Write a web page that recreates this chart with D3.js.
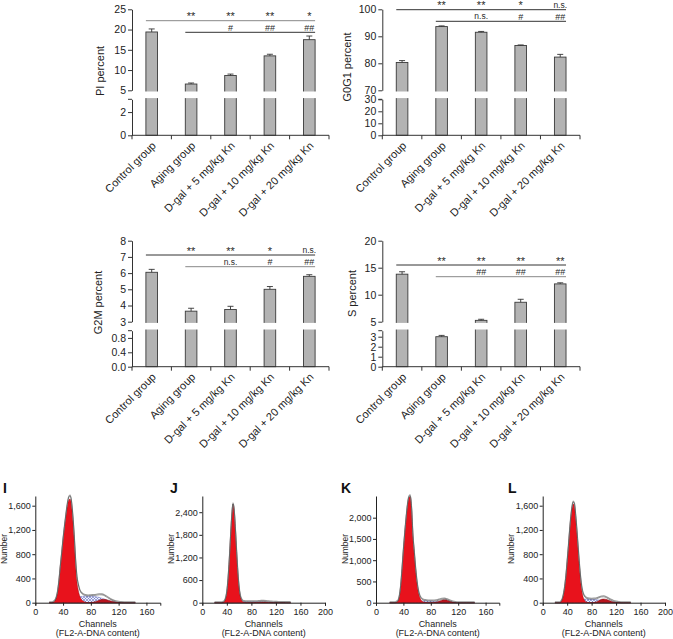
<!DOCTYPE html>
<html><head><meta charset="utf-8">
<script src="https://cdn.jsdelivr.net/npm/d3@7"></script>
<style>body{margin:0;background:#fff} svg{display:block} text{font-family:"Liberation Sans",Arial,sans-serif}</style>
</head><body><svg id="c" width="673" height="639"></svg>
<script>
// ---------- DATA ----------
const groups = ["Control group","Aging group","D-gal + 5 mg/kg Kn","D-gal + 10 mg/kg Kn","D-gal + 20 mg/kg Kn"];

const piMean   = [19.4, 6.55, 8.65, 13.5, 17.5];
const piErr    = [0.75, 0.25, 0.35, 0.4, 0.9];
const g0g1Mean = [80.3, 93.6, 91.5, 86.6, 82.3];
const g0g1Err  = [0.7, 0.25, 0.3, 0.2, 1.0];
const g2mMean  = [6.05, 3.65, 3.75, 5.0, 5.8];
const g2mErr   = [0.18, 0.18, 0.2, 0.17, 0.1];
const sMean    = [13.8, 3.0, 5.25, 8.6, 12.0];
const sErr     = [0.45, 0.13, 0.2, 0.55, 0.2];

const piSig1   = ["", "**", "**", "**", "*"];
const piSig2   = ["", "", "#", "##", "##"];
const g0g1Sig1 = ["", "**", "**", "*", "n.s."];
const g0g1Sig2 = ["", "", "n.s.", "#", "##"];
const g2mSig1  = ["", "**", "**", "*", "n.s."];
const g2mSig2  = ["", "", "n.s.", "#", "##"];
const sSig1    = ["", "**", "**", "**", "**"];
const sSig2    = ["", "", "##", "##", "##"];

const piUpperTicks = [5, 10, 15, 20, 25],  piLowerTicks = [0, 2];
const g0g1UpperTicks = [70, 80, 90, 100],  g0g1LowerTicks = [0, 10, 20, 30];
const g2mUpperTicks = [3, 4, 5, 6, 7, 8],  g2mLowerTicks = [0.0, 0.4, 0.8];
const sUpperTicks = [5, 10, 15, 20],       sLowerTicks = [0, 1, 2, 3];

// flow cytometry histograms: channel grid and component counts
const chan = [20,24,28,30,32,34,36,38,40,42,44,46,48,50,52,54,56,58,60,62,64,66,68,72,76,80,84,88,92,96,100,104,108,112,116,120,124,128,132,136,140,144];

const histI_G1 = [0,0,30,80,180,360,600,820,1050,1250,1430,1590,1690,1710,1620,1380,1050,640,340,200,110,60,35,10,0,0,0,0,0,0,0,0,0,0,0,0,0,0,0,0,0,0];
const histI_S  = [0,0,0,0,0,0,0,0,5,12,20,30,40,50,58,66,74,82,88,94,98,102,105,108,110,110,106,98,88,74,56,38,22,12,6,2,0,0,0,0,0,0];
const histI_G2 = [0,0,0,0,0,0,0,0,0,0,0,0,0,0,0,0,0,0,0,0,0,0,0,0,0,5,12,25,42,55,56,46,32,18,10,5,2,0,0,0,0,0];

const histJ_G1 = [0,0,0,0,0,10,40,120,300,650,1150,1750,2300,2620,2450,1950,1350,800,400,170,70,25,8,0,0,0,0,0,0,0,0,0,0,0,0,0,0,0,0,0,0,0];
const histJ_S  = [0,0,0,0,0,0,0,0,0,0,0,0,0,0,5,7,10,12,15,16,18,19,20,22,22,22,22,22,20,20,18,16,14,12,10,8,6,5,4,3,2,1];
const histJ_G2 = [0,0,0,0,0,0,0,0,0,0,0,0,0,0,0,0,0,0,0,0,0,0,0,0,0,0,0,3,8,14,16,14,8,3,0,0,0,0,0,0,0,0];

const histK_G1 = [0,0,0,15,40,150,400,800,1250,1650,2000,2300,2470,2490,2200,1550,1150,760,450,240,120,60,30,8,0,0,0,0,0,0,0,0,0,0,0,0,0,0,0,0,0,0];
const histK_S  = [0,0,0,0,0,0,0,0,3,6,10,14,18,22,25,28,32,35,38,39,40,40,40,40,40,38,35,30,25,20,15,10,6,3,0,0,0,0,0,0,0,0];
const histK_G2 = [0,0,0,0,0,0,0,0,0,0,0,0,0,0,0,0,0,0,0,0,0,0,0,0,0,0,5,15,35,60,70,60,35,15,5,0,0,0,0,0,0,0];

const histL_G1 = [0,0,0,20,60,140,270,450,680,920,1180,1400,1560,1630,1590,1400,1150,870,600,370,200,100,50,10,0,0,0,0,0,0,0,0,0,0,0,0,0,0,0,0,0,0];
const histL_S  = [0,0,0,0,0,0,0,0,5,10,15,20,25,30,35,40,45,48,50,52,55,58,60,60,60,58,55,50,45,40,35,28,20,14,8,4,2,0,0,0,0,0];
const histL_G2 = [0,0,0,0,0,0,0,0,0,0,0,0,0,0,0,0,0,0,0,0,0,0,0,0,0,0,5,15,35,55,62,55,40,25,12,5,2,0,0,0,0,0];

// ---------- DRAWING ----------
const svg = d3.select("#c");
const defs = svg.append("defs");
const pat = defs.append("pattern").attr("id","hatch").attr("patternUnits","userSpaceOnUse")
  .attr("width",3).attr("height",3);
pat.append("rect").attr("width",3).attr("height",3).attr("fill","#eef0fa");
pat.append("path").attr("d","M0,3 L3,0 M0,0 L3,3").attr("stroke","#5a64c0").attr("stroke-width",0.55);

const AX = "#333";
const fmtInt = d3.format("d"), fmt1 = d3.format(".1f");

function barPanel(cfg) {
  const g = svg.append("g");
  const T = cfg.top;
  const x = d3.scaleBand().domain(groups).range([cfg.x0, cfg.x1]);
  const upper = d3.scaleLinear().domain(cfg.upperDomain).range([T + 81, T]);
  const lower = d3.scaleLinear().domain(cfg.lowerDomain).range([T + 126, T + 90]);
  const bw = 11.6;
  const yOf = v => v >= cfg.upperDomain[0] ? upper(v) : lower(v);

  groups.forEach((name, i) => {
    const v = cfg.mean[i], e = cfg.err[i];
    const cx = x(name) + x.bandwidth() / 2;
    const top = yOf(v);
    g.append("rect").attr("x", cx - bw/2).attr("y", top).attr("width", bw)
      .attr("height", lower(0) - top).attr("fill", "#b3b3b3").attr("stroke", "#3a3a3a").attr("stroke-width", 0.9);
    const yt = yOf(v + e);
    g.append("line").attr("x1", cx).attr("x2", cx).attr("y1", top).attr("y2", yt).attr("stroke", "#333").attr("stroke-width", 0.9);
    g.append("line").attr("x1", cx - 3).attr("x2", cx + 3).attr("y1", yt).attr("y2", yt).attr("stroke", "#333").attr("stroke-width", 0.9);
  });
  g.append("rect").attr("x", cfg.x0 - 6).attr("y", T + 82.2).attr("width", cfg.x1 - cfg.x0 + 8)
    .attr("height", 6.6).attr("fill", "#fff");

  const ua = g.append("g").attr("transform", `translate(${cfg.x0},0)`)
    .call(d3.axisLeft(upper).tickValues(cfg.upperTicks).tickSize(4).tickSizeOuter(0).tickFormat(cfg.upperFmt || fmtInt));
  const la = g.append("g").attr("transform", `translate(${cfg.x0},0)`)
    .call(d3.axisLeft(lower).tickValues(cfg.lowerTicks).tickSize(4).tickSizeOuter(0).tickFormat(cfg.lowerFmt || fmtInt));
  g.append("line").attr("x1", cfg.x0 - 4).attr("x2", cfg.x0).attr("y1", T + 90).attr("y2", T + 90).attr("stroke", AX);
  [ua, la].forEach(a => {
    a.selectAll("path,line").attr("stroke", AX);
    a.selectAll("text").attr("font-size", 10.5).attr("fill", "#222").attr("x", -6);
  });

  const yb = T + 126;
  g.append("line").attr("x1", cfg.x0).attr("x2", cfg.x1).attr("y1", yb).attr("y2", yb).attr("stroke", AX);
  const edges = groups.map(n => x(n)).concat([cfg.x1]);
  edges.forEach(ex => g.append("line").attr("x1", ex).attr("x2", ex).attr("y1", yb).attr("y2", yb + 4).attr("stroke", AX));
  groups.forEach(n => {
    const cx = x(n) + x.bandwidth() / 2;
    g.append("text").attr("transform", `translate(${cx + 5},${yb + 11}) rotate(-45)`)
      .attr("text-anchor", "end").attr("font-size", 11).attr("fill", "#222").text(n);
  });

  g.append("text").attr("transform", `translate(${cfg.titleX},${cfg.titleY}) rotate(-90)`)
    .attr("text-anchor", "middle").attr("dy", "0.35em").attr("font-size", 11).attr("fill", "#222").text(cfg.title);

  const c = i => x(groups[i]) + x.bandwidth() / 2;
  g.append("line").attr("x1", c(0) - bw/2).attr("x2", c(4) + bw/2).attr("y1", cfg.sigY1).attr("y2", cfg.sigY1)
    .attr("stroke", cfg.sigC1).attr("stroke-width", 1);
  g.append("line").attr("x1", c(1) - bw/2).attr("x2", c(4) + bw/2).attr("y1", cfg.sigY2).attr("y2", cfg.sigY2)
    .attr("stroke", cfg.sigC2).attr("stroke-width", 1);
  const put = (s, i, ly) => {
    if (!s) return;
    let size, y;
    if (s === "n.s.") { size = 8.5; y = Math.max(ly - 2, 8); }
    else if (s[0] === "*") { size = 11; y = ly - 0.5; }
    else { size = 9; y = ly - 1.5; }
    g.append("text").attr("x", c(i)).attr("y", y).attr("text-anchor", "middle")
      .attr("font-size", size).attr("fill", "#2a2a2a").text(s);
  };
  cfg.sig1.forEach((s, i) => put(s, i, cfg.sigY1));
  cfg.sig2.forEach((s, i) => put(s, i, cfg.sigY2));
}

barPanel({x0: 132, x1: 329, top: 9.3, mean: piMean, err: piErr, upperDomain: [5, 25], lowerDomain: [0, 3.1],
  upperTicks: piUpperTicks, lowerTicks: piLowerTicks, title: "PI percent", titleX: 100, titleY: 71,
  sig1: piSig1, sig2: piSig2, sigY1: 20.7, sigY2: 32.3, sigC1: "#888", sigC2: "#333"});
barPanel({x0: 382.3, x1: 580, top: 9.3, mean: g0g1Mean, err: g0g1Err, upperDomain: [70, 100], lowerDomain: [0, 30],
  upperTicks: g0g1UpperTicks, lowerTicks: g0g1LowerTicks, title: "G0G1 percent", titleX: 347, titleY: 67,
  sig1: g0g1Sig1, sig2: g0g1Sig2, sigY1: 9.7, sigY2: 21.3, sigC1: "#333", sigC2: "#333"});
barPanel({x0: 132, x1: 329, top: 240.7, mean: g2mMean, err: g2mErr, upperDomain: [3, 8], lowerDomain: [0, 1.0],
  upperTicks: g2mUpperTicks, lowerTicks: g2mLowerTicks, lowerFmt: fmt1, title: "G2M percent", titleX: 98, titleY: 302.5,
  sig1: g2mSig1, sig2: g2mSig2, sigY1: 255, sigY2: 266.7, sigC1: "#333", sigC2: "#888"});
barPanel({x0: 382.3, x1: 580, top: 240.7, mean: sMean, err: sErr, upperDomain: [5, 20], lowerDomain: [0, 3.6],
  upperTicks: sUpperTicks, lowerTicks: sLowerTicks, title: "S percent", titleX: 352, titleY: 293.5,
  sig1: sSig1, sig2: sSig2, sigY1: 265, sigY2: 276.7, sigC1: "#333", sigC2: "#888"});

function histPanel(cfg) {
  const g = svg.append("g");
  const x = d3.scaleLinear().domain(cfg.xDomain).range([cfg.x0, cfg.x1]);
  const y = d3.scaleLinear().domain(cfg.yDomain).range([602.7, 496]);
  const pts = arr => chan.map((c, i) => [c, arr[i]]);
  const area = d3.area().x(d => x(d[0])).y0(y(0)).y1(d => y(d[1])).curve(d3.curveMonotoneX);
  g.append("path").attr("d", area(pts(cfg.s))).attr("fill", "url(#hatch)").attr("stroke", "#7a80c8").attr("stroke-width", 0.5);
  g.append("path").attr("d", area(pts(cfg.g2))).attr("fill", "#b8141e").attr("stroke", "#7a0a10").attr("stroke-width", 0.4);
  g.append("path").attr("d", area(pts(cfg.g1))).attr("fill", "#e8121c").attr("stroke", "#8a0a10").attr("stroke-width", 0.4);
  const total = chan.map((c, i) => [c, cfg.g1[i] + cfg.s[i] + cfg.g2[i]]);
  const line = d3.line().x(d => x(d[0])).y(d => y(d[1]) - 1).curve(d3.curveMonotoneX);
  g.append("path").attr("d", line(total)).attr("fill", "none").attr("stroke", "#999").attr("stroke-width", 1.1);
  const line2 = d3.line().x(d => x(d[0])).y(d => y(d[1])).curve(d3.curveMonotoneX);
  g.append("path").attr("d", line2(total)).attr("fill", "none").attr("stroke", "#333").attr("stroke-width", 0.5);

  const xa = g.append("g").attr("transform", "translate(0,602.7)")
    .call(d3.axisBottom(x).tickValues(cfg.xTicks).tickSize(3).tickSizeOuter(3));
  const ya = g.append("g").attr("transform", `translate(${cfg.x0},0)`)
    .call(d3.axisLeft(y).tickValues(cfg.yTicks).tickSize(3).tickSizeOuter(0).tickFormat(d3.format(",")));
  [xa, ya].forEach(a => {
    a.selectAll("path,line").attr("stroke", "#222");
    a.selectAll("text").attr("font-size", 9).attr("fill", "#222");
  });
  ya.selectAll("text").attr("x", -4.5);
  g.append("text").attr("x", cfg.lx).attr("y", 493).attr("font-size", 14).attr("font-weight", "bold").attr("fill", "#111").text(cfg.letter);
  g.append("text").attr("transform", `translate(${cfg.x0 - 28.5},549) rotate(-90)`).attr("text-anchor", "middle")
    .attr("font-size", 8.5).attr("fill", "#222").text("Number");
  const mx = (cfg.x0 + cfg.x1) / 2;
  g.append("text").attr("x", mx).attr("y", 627).attr("text-anchor", "middle").attr("font-size", 9).attr("fill", "#222").text("Channels");
  g.append("text").attr("x", mx).attr("y", 636).attr("text-anchor", "middle").attr("font-size", 9).attr("fill", "#222").text("(FL2-A-DNA content)");
}

histPanel({letter: "I", lx: 3, x0: 35.3, x1: 160.3, xDomain: [0, 180], xTicks: [0, 40, 80, 120, 160],
  yDomain: [0, 1760], yTicks: [0, 400, 800, 1200, 1600], g1: histI_G1, s: histI_S, g2: histI_G2});
histPanel({letter: "J", lx: 170, x0: 202.3, x1: 325, xDomain: [0, 200], xTicks: [0, 40, 80, 120, 160, 200],
  yDomain: [0, 2830], yTicks: [0, 600, 1200, 1800, 2400], g1: histJ_G1, s: histJ_S, g2: histJ_G2});
histPanel({letter: "K", lx: 341, x0: 376, x1: 499.3, xDomain: [0, 180], xTicks: [0, 40, 80, 120, 160],
  yDomain: [0, 2510], yTicks: [0, 500, 1000, 1500, 2000], g1: histK_G1, s: histK_S, g2: histK_G2});
histPanel({letter: "L", lx: 508, x0: 542.7, x1: 665, xDomain: [0, 200], xTicks: [0, 40, 80, 120, 160, 200],
  yDomain: [0, 1760], yTicks: [0, 400, 800, 1200, 1600], g1: histL_G1, s: histL_S, g2: histL_G2});
</script></body></html>
